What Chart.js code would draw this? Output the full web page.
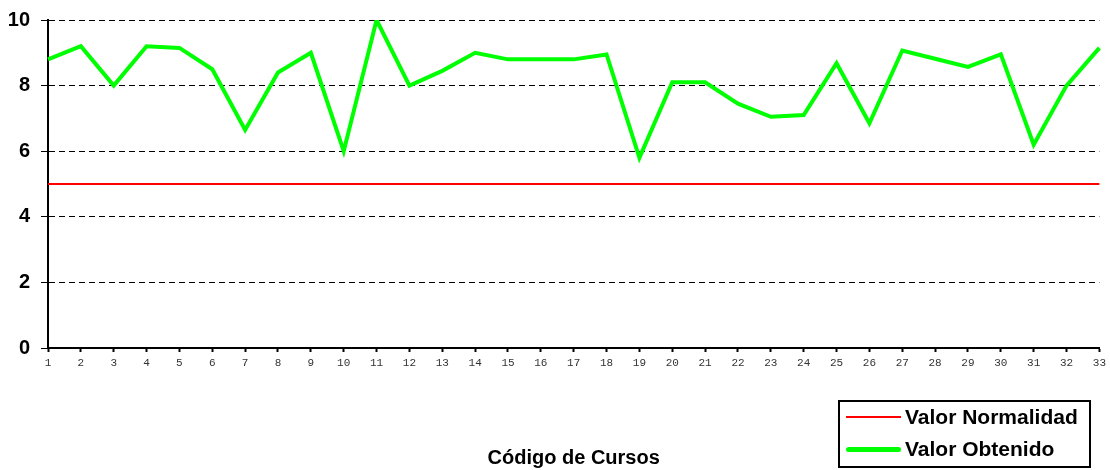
<!DOCTYPE html>
<html>
<head>
<meta charset="utf-8">
<script src="https://cdn.jsdelivr.net/npm/chart.js@4/dist/chart.umd.min.js"></script>
<style>
  html,body{margin:0;padding:0;background:#fff;}
  #wrap{position:relative;width:1110px;height:470px;}
  #legend{position:absolute;left:838px;top:400px;width:249px;height:64px;border:2px solid #000;
    font-family:'Liberation Sans',Arial,sans-serif;font-weight:bold;font-size:21px;color:#000;}
  #legend .row{position:absolute;left:0;height:24px;line-height:24px;width:100%;}
  #legend .sw{position:absolute;left:6px;width:55px;top:12px;}
  #legend .tx{position:absolute;left:65px;top:0;white-space:nowrap;}
</style>
</head>
<body>
<div id="wrap">
  <canvas id="c" width="1110" height="470"></canvas>
  <div id="legend"></div>
</div>
<script>
// ── data ─────────────────────────────────────────────────────────────────────
const CURSOS = ['1','2','3','4','5','6','7','8','9','10','11','12','13','14','15','16','17',
                '18','19','20','21','22','23','24','25','26','27','28','29','30','31','32','33'];
const VALOR_NORMALIDAD = [5,5,5,5,5,5,5,5,5,5,5,5,5,5,5,5,5,5,5,5,5,5,5,5,5,5,5,5,5,5,5,5,5];
const VALOR_OBTENIDO = [8.8,9.2,8.0,9.2,9.15,8.5,6.65,8.4,9.0,6.0,10.0,8.0,8.45,9.0,8.8,8.8,8.8,
                        8.95,5.8,8.1,8.1,7.45,7.05,7.1,8.68,6.85,9.07,8.82,8.57,8.95,6.2,8.0,9.15];
const Y_TICKS = [0,2,4,6,8,10];

const RED='#ff0000', GREEN='#00ff00';
const FONT="'Liberation Sans', Arial, sans-serif";

const ds=[
  {label:'Valor Normalidad',data:VALOR_NORMALIDAD,borderColor:RED,borderWidth:2,pointRadius:0,tension:0,fill:false,swW:2},
  {label:'Valor Obtenido',data:VALOR_OBTENIDO,borderColor:GREEN,borderWidth:4,pointRadius:0,tension:0,fill:false,swW:5,borderJoinStyle:'miter'}
];

new Chart(document.getElementById('c'),{
  type:'line',
  data:{labels:CURSOS,datasets:ds},
  options:{
    responsive:false,animation:false,
    layout:{padding:{top:20,right:10,left:0,bottom:0}},
    plugins:{legend:{display:false},tooltip:{enabled:false}},
    scales:{
      x:{
        offset:false,
        afterFit:s=>{s.height=122;},
        grid:{drawOnChartArea:false,drawTicks:true,tickLength:4,tickColor:'#000',tickWidth:2},
        border:{color:'#000',width:2},
        ticks:{color:'#333',font:{family:"'Liberation Mono', monospace",size:11},maxRotation:0,autoSkip:false,padding:4},
        title:{display:true,text:'Código de Cursos',color:'#000',font:{family:FONT,size:20,weight:'bold'},padding:{top:0,bottom:0}}
      },
      y:{
        min:0,max:10,
        afterFit:s=>{s.width=48;s.paddingTop=0;s.paddingBottom=0;},
        afterBuildTicks:s=>{s.ticks=Y_TICKS.map(v=>({value:v}));},
        grid:{color:'#000',lineWidth:1,drawTicks:true,tickLength:7,tickColor:'#000',tickWidth:1,tickBorderDash:[]},
        border:{color:'#000',width:2,dash:[6,4]},
        ticks:{color:'#000',font:{family:FONT,size:20,weight:'bold'},padding:11}
      }
    }
  }
});

// legend drawn as bordered box like the reference
const lg=document.getElementById('legend');
ds.forEach((d,i)=>{
  const row=document.createElement('div');
  row.className='row';row.style.top=(i===0?3:35)+'px';
  row.innerHTML=`<div class="sw" style="height:${d.swW}px;margin-top:${-d.swW/2}px;background:${d.borderColor};border-radius:${i?3:0}px"></div><div class="tx">${d.label}</div>`;
  lg.appendChild(row);
});
</script>
</body>
</html>
